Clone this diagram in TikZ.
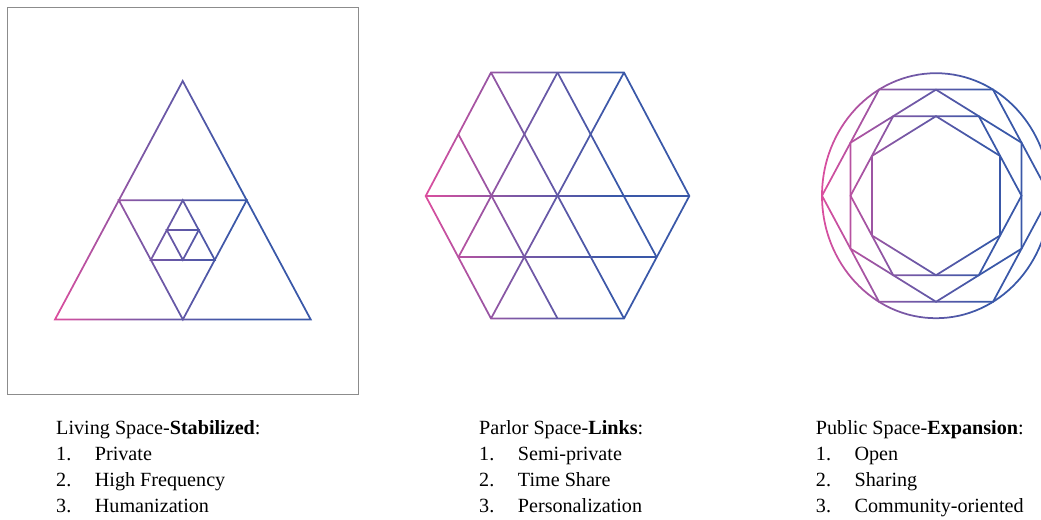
\documentclass[tikz,border=0pt]{standalone}
\usepackage{fontspec}
\setmainfont{Liberation Serif}
\usetikzlibrary{calc}

\definecolor{spacepink}{RGB}{222,78,158}
\definecolor{spacepurple}{RGB}{125,88,165}
\definecolor{spaceblue}{RGB}{58,88,168}
\pgfdeclarehorizontalshading{spacegrad}{100bp}{color(0bp)=(spacepink); color(25bp)=(spacepink); color(42bp)=(spacepurple); color(60bp)=(spaceblue); color(100bp)=(spaceblue)}

\newcommand{\listitem}[2]{\makebox[1.16cm][l]{#1}#2}

\begin{document}
\begin{tikzpicture}[x=0.03cm, y=-0.03cm,
    figline/.style={draw=black, line width=1.5pt, line join=miter},
    tint/.style={shading=spacegrad, blend mode=screen},
    frame/.style={draw=black!45, line width=0.8pt},
    listtext/.style={anchor=north west, align=left, inner sep=0pt, font=\fontsize{17.2}{22.4}\selectfont},
]

\path[use as bounding box, fill=white] (0,0) rectangle (1041,519);

% Living space
\draw[frame] (7,7) rectangle (358,394);
\coordinate (ta) at (182.7,81);
\coordinate (tb) at (55,319.5);
\coordinate (tc) at (310.7,319.5);
\coordinate (mab) at ($(ta)!0.5!(tb)$);
\coordinate (mac) at ($(ta)!0.5!(tc)$);
\coordinate (mbc) at ($(tb)!0.5!(tc)$);
\coordinate (ia) at ($(mab)!0.5!(mac)$);
\coordinate (ib) at ($(mab)!0.5!(mbc)$);
\coordinate (ic) at ($(mac)!0.5!(mbc)$);

\draw[figline] (ta) -- (tb) -- (tc) -- cycle;
\draw[figline] (mab) -- (mac) -- (mbc) -- cycle;
\draw[figline] (ia) -- (ib) -- (ic) -- cycle;
\draw[figline] ($(ia)!0.5!(ib)$) -- ($(ia)!0.5!(ic)$) -- ($(ib)!0.5!(ic)$) -- cycle;
\begin{scope}
  \shade[tint] (52,76) rectangle (314,324);
\end{scope}

% Parlor space
\coordinate (hl) at (425.7,196);
\coordinate (htl) at (491,72.5);
\coordinate (htm) at (557.5,72.5);
\coordinate (htr) at (624,72.5);
\coordinate (hr) at (689.3,196);
\coordinate (hbr) at (624,318.5);
\coordinate (hbm) at (557.5,318.5);
\coordinate (hbl) at (491,318.5);

\draw[figline] (hl) -- (htl) -- (htr) -- (hr) -- (hbr) -- (hbl) -- cycle;
\draw[figline] (hl) -- (hr);
\draw[figline] ($(hl)!0.5!(hbl)$) -- ($(hr)!0.5!(hbr)$);
\draw[figline] (htl) -- (hbr);
\draw[figline] (htm) -- ($(hr)!0.5!(hbr)$);
\draw[figline] ($(hl)!0.5!(htl)$) -- (hbm);
\draw[figline] (hbl) -- (htr);
\draw[figline] (htm) -- ($(hl)!0.5!(hbl)$);
\begin{scope}
  \shade[tint] (422,68) rectangle (693,323);
\end{scope}

% Public space
\begin{scope}[shift={(936,195.7)}, yscale=1.0746]
  \draw[figline] (0,0) circle (114);
  \foreach \r/\a in {114/0, 98.7/30, 85.5/0, 74/30}
    \draw[figline] (\a:\r) -- (\a+60:\r) -- (\a+120:\r) -- (\a+180:\r) -- (\a+240:\r) -- (\a+300:\r) -- cycle;
\end{scope}
\begin{scope}
  \shade[tint] (818,68) rectangle (1054,324);
\end{scope}

% Lists
\node[listtext] (livtext) at (56,420) {Living Space-\textbf{Stabilized}:\\
  \listitem{1.}{Private}\\ \listitem{2.}{High Frequency}\\ \listitem{3.}{Humanization}};
\node[listtext] (partext) at (479,420) {Parlor Space-\textbf{Links}:\\
  \listitem{1.}{Semi-private}\\ \listitem{2.}{Time Share}\\ \listitem{3.}{Personalization}};
\node[listtext] (pubtext) at (815.7,420) {Public Space-\textbf{Expansion}:\\
  \listitem{1.}{Open}\\ \listitem{2.}{Sharing}\\ \listitem{3.}{Community-oriented}};

\end{tikzpicture}
\end{document}
